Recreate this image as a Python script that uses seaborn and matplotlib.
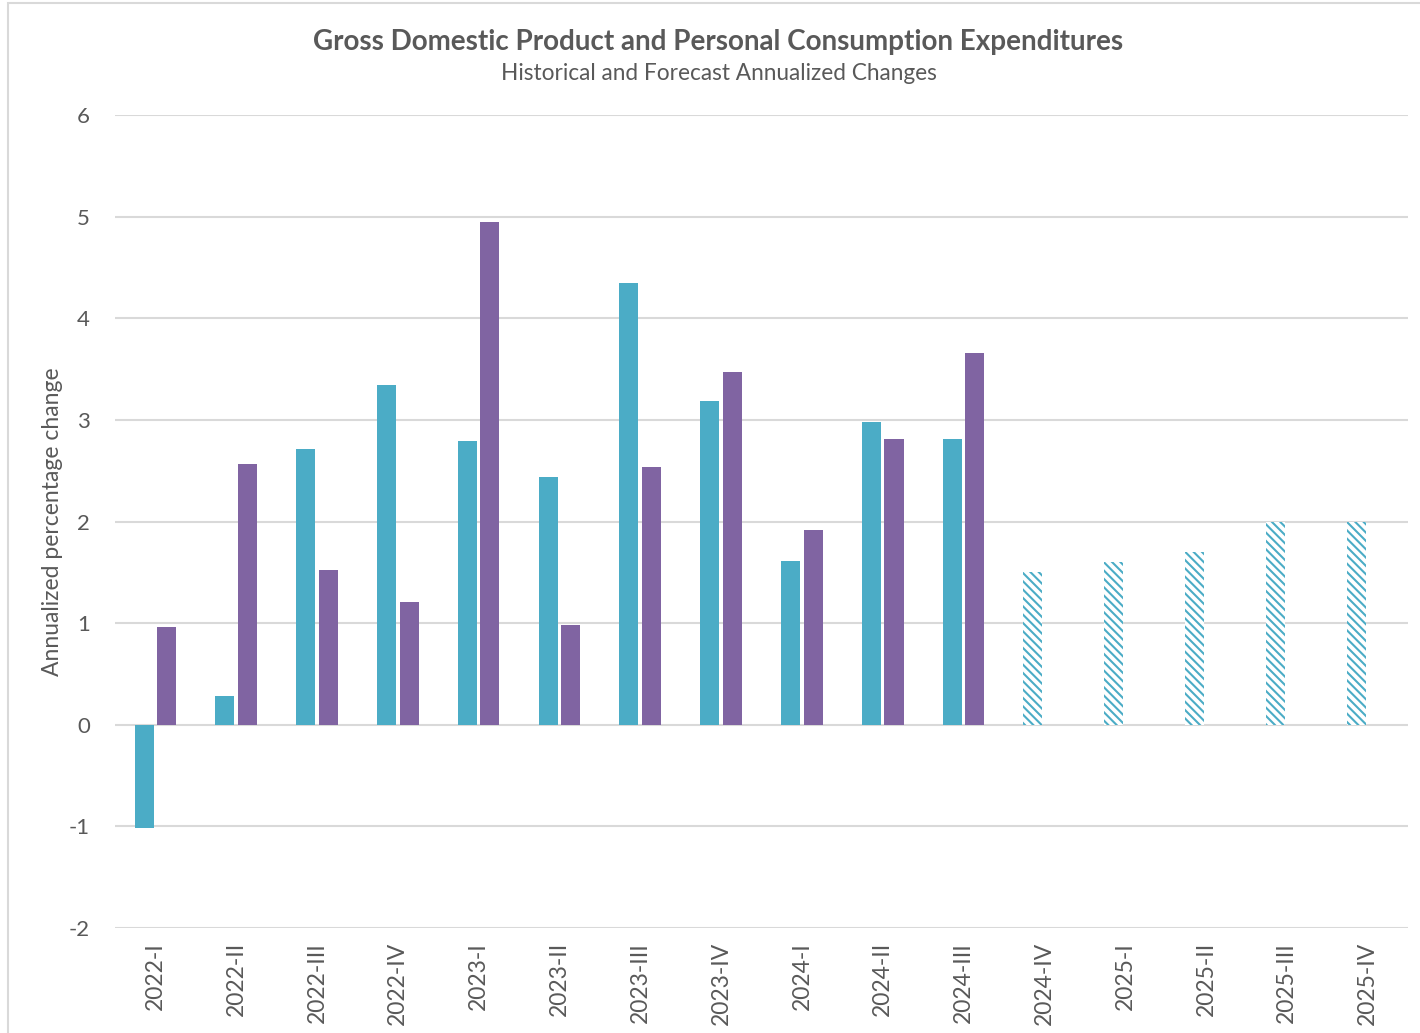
import matplotlib
matplotlib.use("Agg")
import matplotlib.pyplot as plt
import seaborn as sns
import pandas as pd
import numpy as np
from matplotlib.patches import Rectangle

quarters = ["2022-I", "2022-II", "2022-III", "2022-IV", "2023-I", "2023-II", "2023-III", "2023-IV",
            "2024-I", "2024-II", "2024-III", "2024-IV", "2025-I", "2025-II", "2025-III", "2025-IV"]
gdp = [-1.02, 0.28, 2.71, 3.34, 2.79, 2.44, 4.35, 3.19, 1.61, 2.98, 2.81, 1.5, 1.6, 1.7, 2.0, 2.0]
pce = [0.96, 2.57, 1.52, 1.21, 4.95, 0.98, 2.54, 3.47, 1.92, 2.81, 3.66,
       np.nan, np.nan, np.nan, np.nan, np.nan]
forecast_start = 11  # 2024-IV onwards are forecasts (hatched)

df = pd.DataFrame({
    "quarter": quarters * 2,
    "series": ["GDP"] * len(quarters) + ["PCE"] * len(quarters),
    "value": gdp + pce,
})

sns.set_theme(style="white")
plt.rcParams["font.family"] = ["Lato", "DejaVu Sans"]
plt.rcParams["hatch.linewidth"] = 1.5
plt.rcParams["axes.unicode_minus"] = False

TEAL = "#4BACC6"
PURPLE = "#8064A2"
GRAY = "#595959"

fig = plt.figure(figsize=(14.2, 10.33), dpi=100)
ax = fig.add_axes([0.081, 0.1016, 0.9105, 0.7871])

sns.barplot(data=df, x="quarter", y="value", hue="series", order=quarters,
            hue_order=["GDP", "PCE"], palette=[TEAL, PURPLE], width=0.56, gap=0.16,
            errorbar=None, legend=False, ax=ax, saturation=1, linewidth=0)

for i, p in enumerate(ax.containers[0].patches):
    if i >= forecast_start:
        p.set_facecolor("white")
        p.set_edgecolor(TEAL)
        p.set_hatch("\\\\\\\\")
        p.set_linewidth(0)

ax.set_ylim(-2, 6)
ax.set_xlim(-0.5, len(quarters) - 0.5)
ax.set_yticks(range(-2, 7))
ax.yaxis.grid(True, color="#D9D9D9", linewidth=1.5)
ax.set_axisbelow(True)
for s in ax.spines.values():
    s.set_visible(False)
ax.tick_params(axis="y", length=0, pad=18, labelsize=16, labelcolor=GRAY)
ax.tick_params(axis="x", length=0, pad=10, labelsize=16.5, labelcolor=GRAY, rotation=90)
ax.set_xlabel("")
ax.set_ylabel("Annualized percentage change", fontsize=16.5, color=GRAY, labelpad=4)

fig.text(0.506, 0.959, "Gross Domestic Product and Personal Consumption Expenditures",
         ha="center", va="center", fontsize=20, fontweight="bold", color=GRAY)
fig.text(0.506, 0.929, "Historical and Forecast Annualized Changes",
         ha="center", va="center", fontsize=16.3, color=GRAY)

fig.patches.append(Rectangle((8 / 1420, -0.05), 1.2, 1 - 3 / 1033 + 0.05,
                             transform=fig.transFigure, fill=False,
                             edgecolor="#D9D9D9", linewidth=1.5))

fig.savefig("out.png", dpi=100)
